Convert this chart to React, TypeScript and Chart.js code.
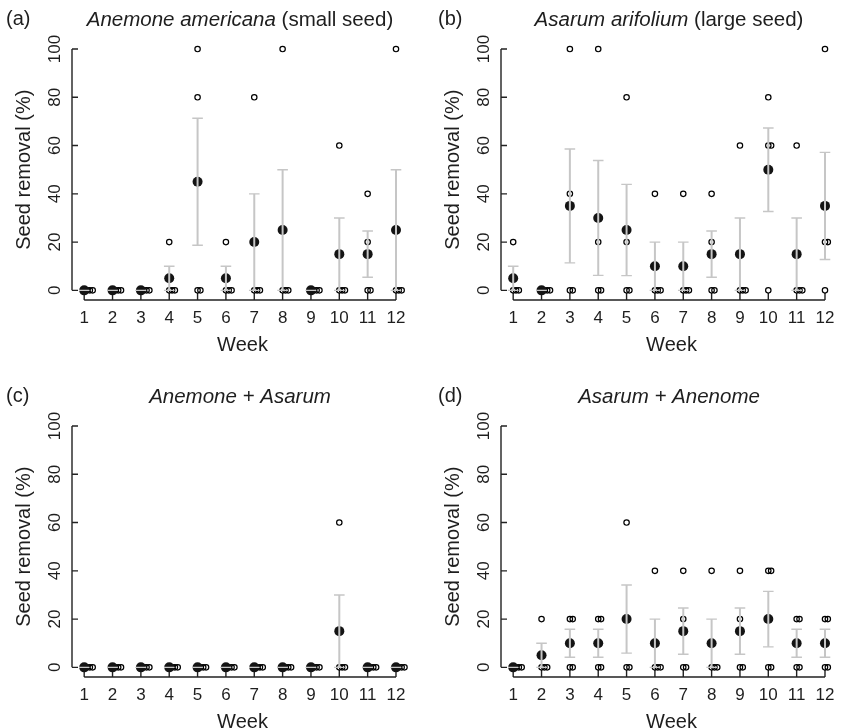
import React, { useEffect, useRef } from "react";
import { Chart, registerables } from "chart.js";

Chart.register(...registerables);

// ---------- data ----------
const WEEKS = [1, 2, 3, 4, 5, 6, 7, 8, 9, 10, 11, 12];
const Y_TICKS = [0, 20, 40, 60, 80, 100];

// individual replicate values (% seed removed), 4 per week
const A_REPS = [
  [0, 0, 0, 0], [0, 0, 0, 0], [0, 0, 0, 0], [20, 0, 0, 0], [100, 80, 0, 0], [20, 0, 0, 0],
  [80, 0, 0, 0], [100, 0, 0, 0], [0, 0, 0, 0], [60, 0, 0, 0], [40, 20, 0, 0], [100, 0, 0, 0],
];
const A_MEAN = [0, 0, 0, 5, 45, 5, 20, 25, 0, 15, 15, 25];
const A_SE = [0, 0, 0, 5, 26.3, 5, 20, 25, 0, 15, 9.6, 25];

const B_REPS = [
  [20, 0, 0, 0], [0, 0, 0, 0], [100, 40, 0, 0], [100, 20, 0, 0], [80, 20, 0, 0], [40, 0, 0, 0],
  [40, 0, 0, 0], [40, 20, 0, 0], [60, 0, 0, 0], [80, 60, 60, 0], [60, 0, 0, 0], [100, 20, 20, 0],
];
const B_MEAN = [5, 0, 35, 30, 25, 10, 10, 15, 15, 50, 15, 35];
const B_SE = [5, 0, 23.6, 23.8, 18.9, 10, 10, 9.6, 15, 17.3, 15, 22.2];

const C_REPS = [
  [0, 0, 0, 0], [0, 0, 0, 0], [0, 0, 0, 0], [0, 0, 0, 0], [0, 0, 0, 0], [0, 0, 0, 0],
  [0, 0, 0, 0], [0, 0, 0, 0], [0, 0, 0, 0], [60, 0, 0, 0], [0, 0, 0, 0], [0, 0, 0, 0],
];
const C_MEAN = [0, 0, 0, 0, 0, 0, 0, 0, 0, 15, 0, 0];
const C_SE = [0, 0, 0, 0, 0, 0, 0, 0, 0, 15, 0, 0];

const D_REPS = [
  [0, 0, 0, 0], [20, 0, 0, 0], [20, 20, 0, 0], [20, 20, 0, 0], [60, 20, 0, 0], [40, 0, 0, 0],
  [40, 20, 0, 0], [40, 0, 0, 0], [40, 20, 0, 0], [40, 40, 0, 0], [20, 20, 0, 0], [20, 20, 0, 0],
];
const D_MEAN = [0, 5, 10, 10, 20, 10, 15, 10, 15, 20, 10, 10];
const D_SE = [0, 5, 5.8, 5.8, 14.1, 10, 9.6, 10, 9.6, 11.5, 5.8, 5.8];

// ---------- styling / layout ----------
const FONT = "'Liberation Sans', Arial, Helvetica, sans-serif";
const TEXT = "#1e1e1e";
const CANVAS_W = 421;
const CANVAS_H = 364;
const STACK_STEP = 0.1; // horizontal offset for repeated values (stacked points)

type TitlePart = { t: string; italic: boolean };
type PanelCfg = {
  letter: string;
  letterX: number;
  left: number;
  top: number;
  title: TitlePart[];
  reps: number[][];
  mean: number[];
  se: number[];
};

const PANELS: PanelCfg[] = [
  {
    letter: "(a)", letterX: 6, left: 0, top: 0,
    title: [{ t: "Anemone americana", italic: true }, { t: " (small seed)", italic: false }],
    reps: A_REPS, mean: A_MEAN, se: A_SE,
  },
  {
    letter: "(b)", letterX: 9, left: 429, top: 0,
    title: [{ t: "Asarum arifolium", italic: true }, { t: " (large seed)", italic: false }],
    reps: B_REPS, mean: B_MEAN, se: B_SE,
  },
  {
    letter: "(c)", letterX: 6, left: 0, top: 377,
    title: [{ t: "Anemone + Asarum", italic: true }],
    reps: C_REPS, mean: C_MEAN, se: C_SE,
  },
  {
    letter: "(d)", letterX: 9, left: 429, top: 377,
    title: [{ t: "Asarum + Anenome", italic: true }],
    reps: D_REPS, mean: D_MEAN, se: D_SE,
  },
];

function buildPoints(reps: number[][]) {
  const pts: { x: number; y: number }[] = [];
  reps.forEach((vals, i) => {
    const seen: Record<string, number> = {};
    vals.forEach((v) => {
      const k = seen[v] || 0;
      seen[v] = k + 1;
      pts.push({ x: WEEKS[i] + k * STACK_STEP, y: v });
    });
  });
  return pts;
}

const rAxesPlugin = {
  id: "rAxes",
  beforeDatasetsDraw(chart: any) {
    const { ctx, chartArea } = chart;
    const x = chart.scales.x;
    const y = chart.scales.y;
    ctx.save();
    ctx.strokeStyle = "#222222";
    ctx.lineWidth = 1.4;
    ctx.beginPath();
    const xl = chartArea.left;
    ctx.moveTo(xl, y.getPixelForValue(Y_TICKS[0]));
    ctx.lineTo(xl, y.getPixelForValue(Y_TICKS[Y_TICKS.length - 1]));
    y.ticks.forEach((t: any) => {
      const py = y.getPixelForValue(t.value);
      ctx.moveTo(xl, py);
      ctx.lineTo(xl + 6, py);
    });
    const yb = chartArea.bottom;
    ctx.moveTo(x.getPixelForValue(WEEKS[0]), yb);
    ctx.lineTo(x.getPixelForValue(WEEKS[WEEKS.length - 1]), yb);
    x.ticks.forEach((t: any) => {
      const px = x.getPixelForValue(t.value);
      ctx.moveTo(px, yb);
      ctx.lineTo(px, yb - 7);
    });
    ctx.stroke();
    ctx.restore();
  },
};

const errorBarPlugin = {
  id: "errBars",
  afterDatasetsDraw(chart: any) {
    const cfg = chart.options.plugins.errBars;
    if (!cfg) return;
    const { ctx } = chart;
    const x = chart.scales.x;
    const y = chart.scales.y;
    ctx.save();
    ctx.strokeStyle = "#c6c6c6";
    ctx.lineCap = "butt";
    WEEKS.forEach((w, i) => {
      const m = cfg.mean[i];
      const s = cfg.se[i];
      const px = x.getPixelForValue(w);
      const lo = y.getPixelForValue(Math.max(0, m - s));
      const hi = y.getPixelForValue(m + s);
      ctx.lineWidth = 2;
      ctx.beginPath();
      ctx.moveTo(px, lo);
      ctx.lineTo(px, hi);
      ctx.stroke();
      ctx.lineWidth = 1.4;
      ctx.beginPath();
      ctx.moveTo(px - 5.3, lo);
      ctx.lineTo(px + 5.3, lo);
      ctx.moveTo(px - 5.3, hi);
      ctx.lineTo(px + 5.3, hi);
      ctx.stroke();
    });
    ctx.restore();
  },
};

const titlePlugin = {
  id: "panelTitle",
  afterDraw(chart: any) {
    const cfg = chart.options.plugins.panelTitle;
    if (!cfg) return;
    const { ctx } = chart;
    ctx.save();
    ctx.fillStyle = TEXT;
    ctx.textBaseline = "alphabetic";
    ctx.textAlign = "left";
    ctx.font = `20px ${FONT}`;
    ctx.fillText(cfg.letter, cfg.letterX, 25);
    const parts: TitlePart[] = cfg.title;
    let total = 0;
    parts.forEach((p) => {
      ctx.font = `${p.italic ? "italic " : ""}20.5px ${FONT}`;
      total += ctx.measureText(p.t).width;
    });
    let cx = 240 - total / 2;
    parts.forEach((p) => {
      ctx.font = `${p.italic ? "italic " : ""}20.5px ${FONT}`;
      ctx.fillText(p.t, cx, 26);
      cx += ctx.measureText(p.t).width;
    });
    ctx.restore();
  },
};

function Panel({ cfg }: { cfg: PanelCfg }) {
  const ref = useRef<HTMLCanvasElement | null>(null);
  useEffect(() => {
    if (!ref.current) return;
    const chart = new Chart(ref.current, {
      type: "scatter",
      data: {
        datasets: [
          {
            label: "replicates",
            data: buildPoints(cfg.reps),
            pointRadius: 2.7,
            pointBorderWidth: 1.2,
            borderColor: "#000000",
            backgroundColor: "rgba(0,0,0,0)",
            pointHoverRadius: 2.7,
            order: 2,
          },
          {
            label: "mean",
            data: WEEKS.map((w, i) => ({ x: w, y: cfg.mean[i] })),
            pointRadius: 5,
            pointBorderWidth: 0,
            borderColor: "#141414",
            backgroundColor: "#141414",
            order: 1,
          },
        ],
      },
      options: {
        animation: false,
        responsive: false,
        events: [],
        clip: false as any,
        layout: { padding: { top: 39.4, right: 8, bottom: 0, left: 0 } },
        plugins: {
          legend: { display: false },
          tooltip: { enabled: false },
          errBars: { mean: cfg.mean, se: cfg.se },
          panelTitle: { letter: cfg.letter, letterX: cfg.letterX, title: cfg.title },
        } as any,
        scales: {
          x: {
            type: "linear",
            min: 0.57,
            max: 12.6,
            grid: { display: false },
            border: { display: false },
            ticks: {
              font: { size: 17, family: FONT },
              color: TEXT,
              padding: 0,
              minRotation: 0,
              maxRotation: 0,
              autoSkip: false,
            },
            title: {
              display: true,
              text: "Week",
              font: { size: 20, family: FONT },
              color: TEXT,
              padding: { top: 0, bottom: 7 },
            },
            afterBuildTicks: (s: any) => {
              s.ticks = WEEKS.map((v) => ({ value: v }));
            },
            afterFit: (s: any) => {
              s.height = 64;
            },
          },
          y: {
            type: "linear",
            min: -4,
            max: 104,
            grid: { display: false },
            border: { display: false },
            ticks: {
              font: { size: 17, family: FONT },
              color: TEXT,
              padding: -5.2,
              minRotation: 90,
              maxRotation: 90,
              crossAlign: "center",
              autoSkip: false,
            },
            title: {
              display: true,
              text: "Seed removal (%)",
              font: { size: 20, family: FONT },
              color: TEXT,
              padding: { top: 12, bottom: 0 },
            },
            afterBuildTicks: (s: any) => {
              s.ticks = Y_TICKS.map((v) => ({ value: v }));
            },
            afterFit: (s: any) => {
              s.width = 72;
            },
          },
        },
      } as any,
      plugins: [rAxesPlugin, errorBarPlugin, titlePlugin],
    });
    return () => chart.destroy();
  }, [cfg]);
  return (
    <canvas
      ref={ref}
      width={CANVAS_W}
      height={CANVAS_H}
      style={{ position: "absolute", left: cfg.left, top: cfg.top, width: CANVAS_W, height: CANVAS_H, display: "block" }}
    />
  );
}

export default function App() {
  return (
    <div
      style={{
        position: "absolute",
        left: 0,
        top: 0,
        width: 842,
        height: 728,
        overflow: "hidden",
        background: "#ffffff",
      }}
    >
      {PANELS.map((p) => (
        <Panel key={p.letter} cfg={p} />
      ))}
    </div>
  );
}
